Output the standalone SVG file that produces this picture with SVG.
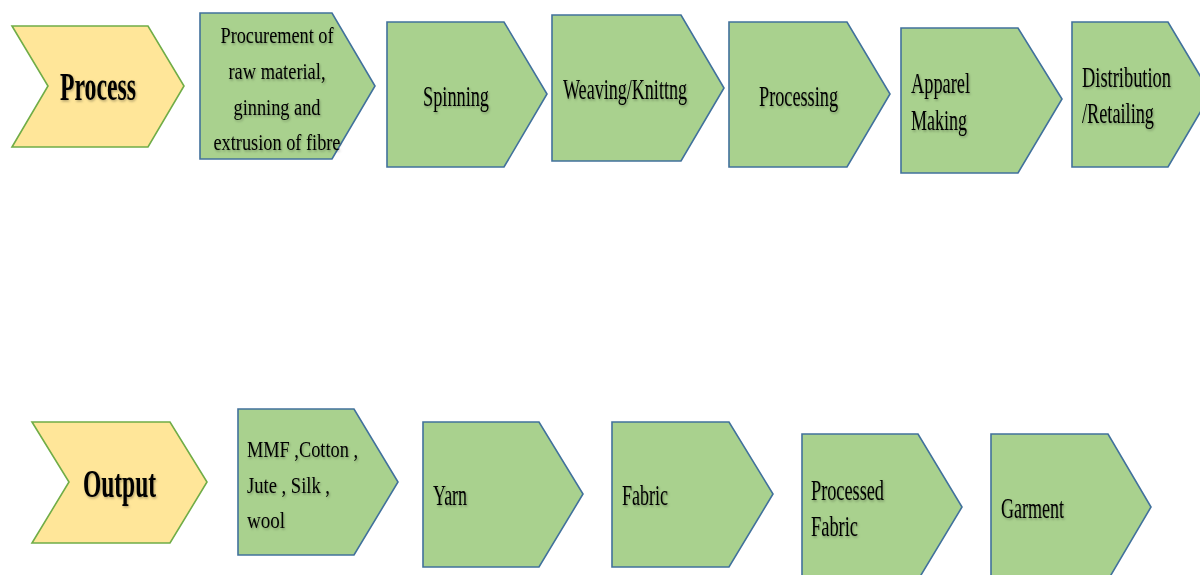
<svg xmlns="http://www.w3.org/2000/svg" width="1200" height="575" viewBox="0 0 1200 575">
<defs>
<style>
.chev{fill:#FFE699;stroke:#70AD47;stroke-width:1.6}
.box{fill:#A9D18E;stroke:#41719C;stroke-width:1.6}
text{font-family:"Liberation Serif","Times New Roman",serif;fill:#000;filter:url(#sh)}
.b{font-weight:bold;font-size:40px}
.r{font-size:30px}
.s{font-size:24px}
.m{text-anchor:middle}
</style>
<filter id="sh" x="-10%" y="-30%" width="130%" height="160%">
<feDropShadow dx="1" dy="1.5" stdDeviation="0.8" flood-color="#000" flood-opacity="0.3"/>
</filter>
</defs>
<rect width="1200" height="575" fill="#fff"/>
<g id="connectors"/>
<g id="process">
<polygon class="chev" points="12,26 148,26 184,86 148,147 12,147 48,86"/>
<text class="b" x="60" y="100" textLength="76" lengthAdjust="spacingAndGlyphs">Process</text>
</g>
<g id="procurement">
<polygon class="box" points="200,13 332,13 375,86 332,159 200,159"/>
<text class="s m" x="277" y="43" textLength="113" lengthAdjust="spacingAndGlyphs">Procurement of</text>
<text class="s m" x="277" y="79" textLength="97" lengthAdjust="spacingAndGlyphs">raw material,</text>
<text class="s m" x="277" y="115" textLength="87" lengthAdjust="spacingAndGlyphs">ginning and</text>
<text class="s m" x="277" y="150" textLength="127" lengthAdjust="spacingAndGlyphs">extrusion of fibre</text>
</g>
<g id="spinning">
<polygon class="box" points="387,22 504,22 547,94 504,167 387,167"/>
<text class="r" x="423" y="106" textLength="66" lengthAdjust="spacingAndGlyphs">Spinning</text>
</g>
<g id="weaving">
<polygon class="box" points="552,15 681,15 724,88 681,161 552,161"/>
<text class="r" x="563" y="99" textLength="124" lengthAdjust="spacingAndGlyphs">Weaving/Knittng</text>
</g>
<g id="processing">
<polygon class="box" points="729,22 847,22 890,94 847,167 729,167"/>
<text class="r" x="759" y="106" textLength="79" lengthAdjust="spacingAndGlyphs">Processing</text>
</g>
<g id="apparel">
<polygon class="box" points="901,28 1018,28 1062,99 1018,173 901,173"/>
<text class="r" x="911" y="93" textLength="59" lengthAdjust="spacingAndGlyphs">Apparel</text>
<text class="r" x="911" y="130" textLength="56" lengthAdjust="spacingAndGlyphs">Making</text>
</g>
<g id="distribution">
<polygon class="box" points="1072,22 1168,22 1211,94 1168,167 1072,167"/>
<text class="r" x="1082" y="87" textLength="89" lengthAdjust="spacingAndGlyphs">Distribution</text>
<text class="r" x="1082" y="123" textLength="72" lengthAdjust="spacingAndGlyphs">/Retailing</text>
</g>
<g id="output">
<polygon class="chev" points="32,422 170,422 207,482 170,543 32,543 69,482"/>
<text class="b" x="83" y="497" textLength="73" lengthAdjust="spacingAndGlyphs">Output</text>
</g>
<g id="mmf">
<polygon class="box" points="238,409 354,409 398,482 354,555 238,555"/>
<text class="s" x="247" y="457" textLength="111" lengthAdjust="spacingAndGlyphs">MMF ,Cotton ,</text>
<text class="s" x="247" y="493" textLength="83" lengthAdjust="spacingAndGlyphs">Jute , Silk ,</text>
<text class="s" x="247" y="528" textLength="38" lengthAdjust="spacingAndGlyphs">wool</text>
</g>
<g id="yarn">
<polygon class="box" points="423,422 539,422 583,494 539,567 423,567"/>
<text class="r" x="433" y="505" textLength="34" lengthAdjust="spacingAndGlyphs">Yarn</text>
</g>
<g id="fabric">
<polygon class="box" points="612,422 729,422 773,494 729,567 612,567"/>
<text class="r" x="622" y="505" textLength="46" lengthAdjust="spacingAndGlyphs">Fabric</text>
</g>
<g id="processed-fabric">
<polygon class="box" points="802,434 918,434 962,507 918,580 802,580"/>
<text class="r" x="811" y="500" textLength="73" lengthAdjust="spacingAndGlyphs">Processed</text>
<text class="r" x="811" y="536" textLength="47" lengthAdjust="spacingAndGlyphs">Fabric</text>
</g>
<g id="garment">
<polygon class="box" points="991,434 1108,434 1151,507 1108,580 991,580"/>
<text class="r" x="1001" y="518" textLength="63" lengthAdjust="spacingAndGlyphs">Garment</text>
</g>
</svg>
